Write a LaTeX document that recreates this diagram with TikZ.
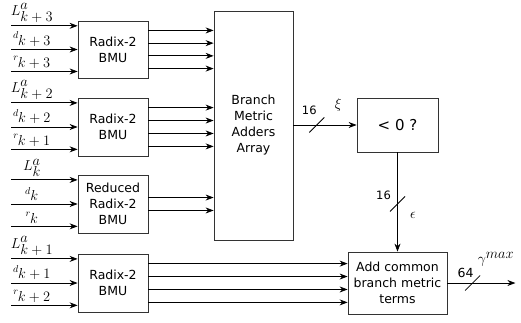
\documentclass[tikz,border=0pt]{standalone}
\usepackage[no-math]{fontspec}
\setmainfont{DejaVu Sans}
\usetikzlibrary{arrows.meta,calc,positioning}

\tikzset{busmark/.pic={\draw[line width=0.8pt] (-7.5,7.5) -- (7.5,-7.5);}}

\begin{document}
\begin{tikzpicture}[x=1pt,y=-1pt,
  blk/.style={draw=black!80, line width=0.8pt, align=center, inner sep=0pt,
    font=\fontsize{12.5}{16}\selectfont},
  sig/.style={-{Stealth[length=8pt,width=6pt]}, line width=0.8pt},
  lbl/.style={font=\fontsize{14.4}{16}\selectfont, inner sep=0pt, anchor=south},
  bw/.style={font=\fontsize{11.5}{13}\selectfont, inner sep=0pt},
  mth/.style={font=\fontsize{14.4}{16}\selectfont, inner sep=0pt}]
  \useasboundingbox (0,0) rectangle (521,322);

  % --- Branch metric units ---
  \node[blk, minimum width=70, minimum height=57] (bmuA) at (113,49.5) {Radix-2\\BMU};
  \node[blk, minimum width=70, minimum height=58] (bmuB) at (113,127) {Radix-2\\BMU};
  \node[blk, minimum width=70, minimum height=58] (bmuR) at (113,204) {Reduced\\Radix-2\\BMU};
  \node[blk, minimum width=70, minimum height=58] (bmuD) at (113,283) {Radix-2\\BMU};

  % --- Adders array, sign test, final adder ---
  \node[blk, minimum width=79, minimum height=229] (bma) at (253.5,125.5) {Branch\\Metric\\Adders\\Array};
  \node[blk, minimum width=81, minimum height=54, font=\fontsize{15}{18}\selectfont] (neg) at (397.5,125) {< 0 ?};
  \node[blk, minimum width=99, minimum height=62] (add) at (397.5,283) {Add common\\branch metric\\terms};

  % --- Inputs ---
  \coordinate (lft) at (11,0);
  \foreach \b/\p/\q in {bmuA/k+3/k+3, bmuB/k+2/k+1, bmuR/k/k, bmuD/k+1/k+2} {
    \foreach \f/\t in {0.09/{L^{\textstyle a}_{\textstyle \p}}, 0.5/{\scriptstyle d_{\textstyle \p}}, 0.88/{\scriptstyle r_{\textstyle \q}}} {
      \coordinate (in) at ($(\b.north west)!\f!(\b.south west)$);
      \draw[sig] (in -| lft) -- (in);
      \node[lbl] at ($(in -| lft)+(21,-3)$) {$\t$};
    }
  }

  % --- BMU outputs ---
  \foreach \b/\d/\fs in {bmuA/bma/{0.17,0.39,0.61,0.83}, bmuB/bma/{0.17,0.39,0.61,0.83},
                         bmuR/bma/{0.39,0.61}, bmuD/add/{0.17,0.39,0.61,0.83}} {
    \foreach \f in \fs {
      \coordinate (out) at ($(\b.north east)!\f!(\b.south east)$);
      \draw[sig] (out) -- (out -| \d.west);
    }
  }

  % xi bus
  \draw[sig] (bma.east |- neg.west) -- (neg.west);
  \coordinate (xiS) at ($(bma.east |- neg.west)!0.37!(neg.west)$);
  \pic at (xiS) {busmark};
  \node[bw] at ($(xiS)+(-7.5,-15)$) {16};
  \node[mth] at ($(xiS)+(21.5,-20)$) {$\xi$};

  % epsilon bus
  \draw[sig] (neg.south) -- (add.north);
  \coordinate (epS) at ($(neg.south)!0.52!(add.north)$);
  \pic at (epS) {busmark};
  \node[bw] at ($(epS)+(-14,-9)$) {16};
  \node[mth] at ($(epS)+(15.5,11)$) {$\epsilon$};

  % gamma output
  \coordinate (gam) at ($(add.east)+(68,0)$);
  \draw[sig] (add.east) -- (gam);
  \coordinate (gaS) at ($(add.east)!0.37!(gam)$);
  \pic at (gaS) {busmark};
  \node[bw, font=\fontsize{12.5}{14}\selectfont] at ($(gaS)+(-7,-10)$) {64};
  \node[mth, anchor=west] at ($(gaS)+(5,-24)$) {$\gamma^{\textstyle max}$};
\end{tikzpicture}
\end{document}
